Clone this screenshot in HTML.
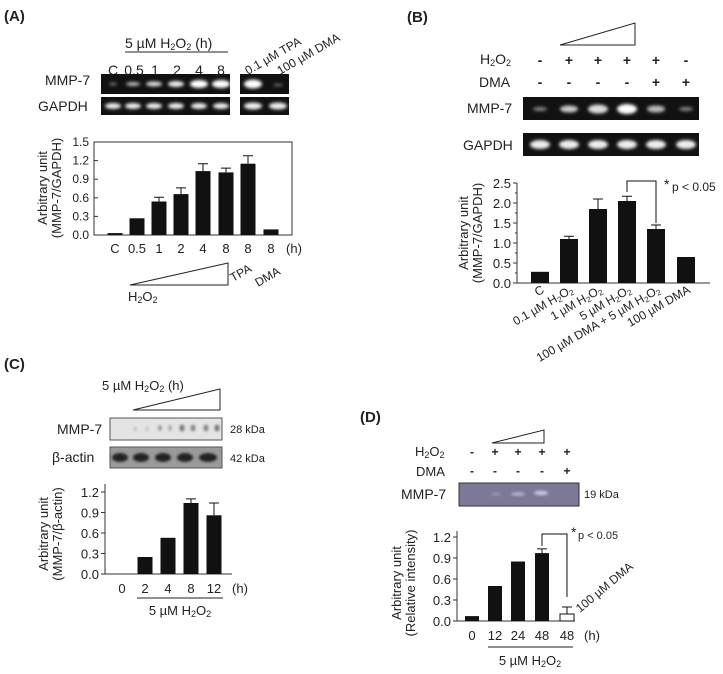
<!DOCTYPE html>
<html><head><meta charset="utf-8"><style>
html,body{margin:0;padding:0;background:#fff}
svg{display:block}
text{font-family:"Liberation Sans",Arial,sans-serif;fill:#222}
</style></head><body>
<svg width="723" height="674" viewBox="0 0 723 674" xmlns="http://www.w3.org/2000/svg">
<defs>
<filter id="bl" x="-50%" y="-50%" width="200%" height="200%"><feGaussianBlur stdDeviation="1.6"/></filter>
<filter id="bl2" x="-50%" y="-50%" width="200%" height="200%"><feGaussianBlur stdDeviation="1.2"/></filter>
</defs>

<!-- ===== Panel A ===== -->
<text x="4" y="21" font-size="15" font-weight="bold">(A)</text>
<text x="125" y="48" font-size="14">5 µM H<tspan font-size="9" dy="2">2</tspan><tspan dy="-2">O</tspan><tspan font-size="9" dy="2">2</tspan><tspan dy="-2">  (h)</tspan></text>
<line x1="125" y1="52" x2="228" y2="52" stroke="#222" stroke-width="1"/>
<g font-size="14" text-anchor="middle">
<text x="113" y="75">C</text><text x="134" y="75">0.5</text><text x="155" y="75">1</text><text x="177" y="75">2</text><text x="199" y="75">4</text><text x="221" y="75">8</text>
</g>
<text font-size="12" transform="translate(248,75) rotate(-30)">0.1 µM TPA</text>
<text font-size="12" transform="translate(280,75) rotate(-30)">100 µM DMA</text>
<text x="45" y="85" font-size="14">MMP-7</text>
<text x="38" y="111" font-size="14">GAPDH</text>
<rect x="101" y="74" width="129" height="20" fill="#111"/>
<rect x="240" y="74" width="49" height="20" fill="#111"/>
<rect x="101" y="97" width="129" height="18" fill="#111"/>
<rect x="240" y="97" width="49" height="18" fill="#111"/>
<g filter="url(#bl)">
<ellipse cx="113" cy="84" rx="4" ry="1.5" fill="#777"/>
<ellipse cx="133" cy="84" rx="7" ry="2" fill="#bbb"/>
<ellipse cx="154" cy="84" rx="8" ry="2.5" fill="#ddd"/>
<ellipse cx="176" cy="84" rx="8" ry="3" fill="#eee"/>
<ellipse cx="199" cy="84" rx="9" ry="4" fill="#fff"/>
<ellipse cx="221" cy="84" rx="9" ry="4" fill="#fff"/>
<ellipse cx="253" cy="84" rx="9" ry="4.5" fill="#fff"/>
<ellipse cx="278" cy="85" rx="5" ry="1.5" fill="#666"/>
<ellipse cx="113" cy="106" rx="8" ry="3" fill="#eee"/>
<ellipse cx="133" cy="106" rx="8" ry="3" fill="#eee"/>
<ellipse cx="154" cy="106" rx="8" ry="3" fill="#eee"/>
<ellipse cx="176" cy="106" rx="8" ry="3" fill="#eee"/>
<ellipse cx="199" cy="106" rx="8" ry="3" fill="#eee"/>
<ellipse cx="221" cy="106" rx="8" ry="3" fill="#eee"/>
<ellipse cx="253" cy="106" rx="9" ry="3.5" fill="#eee"/>
<ellipse cx="278" cy="106" rx="9" ry="3.5" fill="#eee"/>
</g>
<rect x="94" y="142" width="198" height="93" fill="none" stroke="#333" stroke-width="1"/>
<g stroke="#333">
<line x1="94" y1="235" x2="98" y2="235"/><line x1="94" y1="216.4" x2="98" y2="216.4"/><line x1="94" y1="197.8" x2="98" y2="197.8"/><line x1="94" y1="179.2" x2="98" y2="179.2"/><line x1="94" y1="160.6" x2="98" y2="160.6"/><line x1="94" y1="142" x2="98" y2="142"/>
</g>
<g font-size="12" text-anchor="end">
<text x="89" y="239">0.0</text><text x="89" y="220.4">0.3</text><text x="89" y="201.8">0.6</text><text x="89" y="183.2">0.9</text><text x="89" y="164.6">1.2</text><text x="89" y="146">1.5</text>
</g>
<text font-size="13" text-anchor="middle" transform="translate(47,188) rotate(-90)">Arbitrary unit</text>
<text font-size="13" text-anchor="middle" transform="translate(61,188) rotate(-90)">(MMP-7/GAPDH)</text>
<g fill="#111">
<rect x="107.5" y="233.1" width="15" height="1.9"/>
<rect x="129.5" y="218.3" width="15" height="16.7"/>
<rect x="151.5" y="201.5" width="15" height="33.5"/>
<rect x="173.5" y="194.1" width="15" height="40.9"/>
<rect x="195.5" y="171.1" width="15" height="63.9"/>
<rect x="218.5" y="172.4" width="15" height="62.6"/>
<rect x="240.5" y="163.7" width="15" height="71.3"/>
<rect x="263.5" y="229.4" width="15" height="5.6"/>
</g>
<g stroke="#111" stroke-width="1">
<path d="M159 201.5V197.2M154 197.2H164"/>
<path d="M181 194.1V187.9M176 187.9H186"/>
<path d="M203 171.1V163.7M198 163.7H208"/>
<path d="M226 172.4V168.1M221 168.1H231"/>
<path d="M248 163.7V155.7M243 155.7H253"/>
</g>
<g font-size="13" text-anchor="middle">
<text x="115" y="253">C</text><text x="137" y="253">0.5</text><text x="159" y="253">1</text><text x="181" y="253">2</text><text x="203" y="253">4</text><text x="226" y="253">8</text><text x="248" y="253">8</text><text x="271" y="253">8</text><text x="294" y="253">(h)</text>
</g>
<path d="M130 285L228 263V285Z" fill="none" stroke="#222" stroke-width="1"/>
<text x="128" y="301" font-size="13">H<tspan font-size="9" dy="2">2</tspan><tspan dy="-2">O</tspan><tspan font-size="9" dy="2">2</tspan></text>
<text font-size="12" transform="translate(233,282) rotate(-30)">TPA</text>
<text font-size="12" transform="translate(258,287) rotate(-30)">DMA</text>

<!-- ===== Panel B ===== -->
<text x="407" y="22" font-size="15" font-weight="bold">(B)</text>
<path d="M560 45L635 23V45Z" fill="none" stroke="#222" stroke-width="1"/>
<text x="480" y="64" font-size="14">H<tspan font-size="9" dy="2">2</tspan><tspan dy="-2">O</tspan><tspan font-size="9" dy="2">2</tspan></text>
<text x="479" y="87" font-size="14">DMA</text>
<g font-size="14" text-anchor="middle" font-weight="bold">
<text x="540" y="65">-</text><text x="569" y="65">+</text><text x="598" y="65">+</text><text x="627" y="65">+</text><text x="656" y="65">+</text><text x="686" y="65">-</text>
<text x="540" y="87">-</text><text x="569" y="87">-</text><text x="598" y="87">-</text><text x="627" y="87">-</text><text x="656" y="87">+</text><text x="686" y="87">+</text>
</g>
<text x="467" y="113" font-size="14">MMP-7</text>
<text x="463" y="150" font-size="14">GAPDH</text>
<rect x="523" y="97" width="176" height="23" fill="#111"/>
<rect x="523" y="133" width="176" height="23" fill="#111"/>
<g filter="url(#bl)">
<ellipse cx="540" cy="109" rx="7" ry="2" fill="#888"/>
<ellipse cx="569" cy="109" rx="9" ry="3.5" fill="#ccc"/>
<ellipse cx="598" cy="109" rx="10" ry="4.5" fill="#ddd"/>
<ellipse cx="627" cy="109" rx="10" ry="5" fill="#fff"/>
<ellipse cx="656" cy="109" rx="9" ry="3.5" fill="#bbb"/>
<ellipse cx="686" cy="109" rx="7" ry="2" fill="#888"/>
<ellipse cx="540" cy="144.5" rx="10" ry="4.5" fill="#eee"/>
<ellipse cx="569" cy="144.5" rx="10" ry="4.5" fill="#eee"/>
<ellipse cx="598" cy="144.5" rx="10" ry="4.5" fill="#eee"/>
<ellipse cx="627" cy="144.5" rx="10" ry="4.5" fill="#eee"/>
<ellipse cx="656" cy="144.5" rx="10" ry="4.5" fill="#eee"/>
<ellipse cx="686" cy="144.5" rx="10" ry="4.5" fill="#eee"/>
</g>
<path d="M517 183V283H710" fill="none" stroke="#333" stroke-width="1"/>
<g stroke="#333">
<line x1="513" y1="283" x2="517" y2="283"/><line x1="513" y1="263" x2="517" y2="263"/><line x1="513" y1="243" x2="517" y2="243"/><line x1="513" y1="223" x2="517" y2="223"/><line x1="513" y1="203" x2="517" y2="203"/><line x1="513" y1="183" x2="517" y2="183"/>
<line x1="515" y1="273" x2="517" y2="273"/><line x1="515" y1="253" x2="517" y2="253"/><line x1="515" y1="233" x2="517" y2="233"/><line x1="515" y1="213" x2="517" y2="213"/><line x1="515" y1="193" x2="517" y2="193"/>
</g>
<g font-size="13" text-anchor="end">
<text x="511" y="288">0.0</text><text x="511" y="268">0.5</text><text x="511" y="248">1.0</text><text x="511" y="228">1.5</text><text x="511" y="208">2.0</text><text x="511" y="188">2.5</text>
</g>
<text font-size="13" text-anchor="middle" transform="translate(468,233) rotate(-90)">Arbitrary unit</text>
<text font-size="13" text-anchor="middle" transform="translate(482,233) rotate(-90)">(MMP-7/GAPDH)</text>
<g fill="#111">
<rect x="531" y="271.8" width="18" height="11.2"/>
<rect x="560" y="239" width="18" height="44"/>
<rect x="589" y="209" width="18" height="74"/>
<rect x="618" y="201" width="18" height="82"/>
<rect x="647" y="229" width="18" height="54"/>
<rect x="677" y="257" width="18" height="26"/>
</g>
<g stroke="#111" stroke-width="1" fill="none">
<path d="M569 239V236.2M564 236.2H574"/>
<path d="M598 209V199M593 199H603"/>
<path d="M627 201V196.2M622 196.2H632"/>
<path d="M656 229V225M651 225H661"/>
<path d="M627 192V181H656V223"/>
</g>
<text x="664" y="189" font-size="14">*</text>
<text x="672" y="191" font-size="12">p &lt; 0.05</text>
<g font-size="12" text-anchor="end">
<text transform="translate(545,292) rotate(-30)">C</text>
<text transform="translate(574,292) rotate(-30)">0.1 µM H<tspan font-size="8" dy="2">2</tspan><tspan dy="-2">O</tspan><tspan font-size="8" dy="2">2</tspan></text>
<text transform="translate(603,292) rotate(-30)">1 µM H<tspan font-size="8" dy="2">2</tspan><tspan dy="-2">O</tspan><tspan font-size="8" dy="2">2</tspan></text>
<text transform="translate(632,292) rotate(-30)">5 µM H<tspan font-size="8" dy="2">2</tspan><tspan dy="-2">O</tspan><tspan font-size="8" dy="2">2</tspan></text>
<text transform="translate(661,292) rotate(-30)">100 µM DMA + 5 µM H<tspan font-size="8" dy="2">2</tspan><tspan dy="-2">O</tspan><tspan font-size="8" dy="2">2</tspan></text>
<text transform="translate(691,292) rotate(-30)">100 µM DMA</text>
</g>

<!-- ===== Panel C ===== -->
<text x="4" y="369" font-size="15" font-weight="bold">(C)</text>
<text x="102" y="390" font-size="13">5 µM H<tspan font-size="9" dy="2">2</tspan><tspan dy="-2">O</tspan><tspan font-size="9" dy="2">2</tspan><tspan dy="-2"> (h)</tspan></text>
<path d="M133 410L220 389V410Z" fill="none" stroke="#222" stroke-width="1"/>
<text x="57" y="434" font-size="14">MMP-7</text>
<text x="52" y="462" font-size="14">β-actin</text>
<rect x="110" y="418" width="112" height="22" fill="#e4e4e4" stroke="#555" stroke-width="1"/>
<rect x="110" y="447" width="112" height="21" fill="#9a9a9a" stroke="#555" stroke-width="1"/>
<g filter="url(#bl2)">
<ellipse cx="135" cy="429" rx="1.5" ry="2.5" fill="#bbb"/><ellipse cx="147" cy="429" rx="1.5" ry="2" fill="#bbb"/>
<ellipse cx="160" cy="428" rx="2" ry="3" fill="#999"/><ellipse cx="170" cy="428" rx="2" ry="3" fill="#aaa"/>
<ellipse cx="182" cy="428" rx="2.5" ry="3.5" fill="#777"/><ellipse cx="193" cy="428" rx="2.5" ry="3.5" fill="#888"/>
<ellipse cx="206" cy="428" rx="2.5" ry="3.5" fill="#888"/><ellipse cx="217" cy="428" rx="2.5" ry="3.5" fill="#777"/>
<ellipse cx="120" cy="457.5" rx="8" ry="4.5" fill="#222"/><ellipse cx="141" cy="457.5" rx="8" ry="4.5" fill="#222"/>
<ellipse cx="163" cy="457.5" rx="8" ry="4.5" fill="#222"/><ellipse cx="185" cy="457.5" rx="8" ry="4.5" fill="#222"/>
<ellipse cx="208" cy="457.5" rx="9" ry="4.5" fill="#222"/>
</g>
<text x="230" y="433" font-size="11">28 kDa</text>
<text x="230" y="462" font-size="11">42 kDa</text>
<path d="M105 484V574H232" fill="none" stroke="#333" stroke-width="1"/>
<g stroke="#333">
<line x1="101" y1="574" x2="105" y2="574"/><line x1="101" y1="553.5" x2="105" y2="553.5"/><line x1="101" y1="533" x2="105" y2="533"/><line x1="101" y1="512.5" x2="105" y2="512.5"/><line x1="101" y1="492" x2="105" y2="492"/>
</g>
<g font-size="13" text-anchor="end">
<text x="99" y="579">0.0</text><text x="99" y="558.5">0.3</text><text x="99" y="538">0.6</text><text x="99" y="517.5">0.9</text><text x="99" y="497">1.2</text>
</g>
<text font-size="13" text-anchor="middle" transform="translate(48,534) rotate(-90)">Arbitrary unit</text>
<text font-size="13" text-anchor="middle" transform="translate(62,534) rotate(-90)">(MMP-7/β-actin)</text>
<g fill="#111">
<rect x="137.5" y="557" width="15" height="17"/>
<rect x="160.5" y="537.8" width="15" height="36.2"/>
<rect x="183.5" y="503" width="15" height="71"/>
<rect x="206.5" y="515.3" width="15" height="58.7"/>
</g>
<g stroke="#111" stroke-width="1">
<path d="M191 503V498.9M186 498.9H196"/>
<path d="M214 515.3V503M209 503H219"/>
</g>
<g font-size="13" text-anchor="middle">
<text x="122" y="593">0</text><text x="145" y="593">2</text><text x="168" y="593">4</text><text x="191" y="593">8</text><text x="214" y="593">12</text><text x="240" y="593">(h)</text>
</g>
<line x1="137" y1="598" x2="223" y2="598" stroke="#222" stroke-width="1"/>
<text x="180" y="615" font-size="13" text-anchor="middle">5 µM H<tspan font-size="9" dy="2">2</tspan><tspan dy="-2">O</tspan><tspan font-size="9" dy="2">2</tspan></text>

<!-- ===== Panel D ===== -->
<text x="360" y="422" font-size="15" font-weight="bold">(D)</text>
<path d="M492 443L544 430V443Z" fill="none" stroke="#222" stroke-width="1"/>
<text x="415" y="456" font-size="13">H<tspan font-size="9" dy="2">2</tspan><tspan dy="-2">O</tspan><tspan font-size="9" dy="2">2</tspan></text>
<text x="416" y="476" font-size="13">DMA</text>
<g font-size="12" text-anchor="middle" font-weight="bold">
<text x="472" y="456">-</text><text x="495" y="456">+</text><text x="518" y="456">+</text><text x="542" y="456">+</text><text x="567" y="456">+</text>
<text x="472" y="475">-</text><text x="495" y="475">-</text><text x="518" y="475">-</text><text x="542" y="475">-</text><text x="567" y="475">+</text>
</g>
<text x="401" y="499" font-size="14">MMP-7</text>
<rect x="459" y="483" width="120" height="23" fill="#7b7898" stroke="#333" stroke-width="1"/>
<g filter="url(#bl2)">
<ellipse cx="496" cy="494" rx="5" ry="1.5" fill="#9a98b4"/>
<ellipse cx="518" cy="494" rx="7" ry="2" fill="#aeadc6"/>
<ellipse cx="541" cy="493" rx="7" ry="2.5" fill="#c2c0d6"/>
</g>
<text x="584" y="498" font-size="11">19 kDa</text>
<path d="M457 531V621H575" fill="none" stroke="#333" stroke-width="1"/>
<g stroke="#333">
<line x1="453" y1="621" x2="457" y2="621"/><line x1="453" y1="600" x2="457" y2="600"/><line x1="453" y1="579" x2="457" y2="579"/><line x1="453" y1="558" x2="457" y2="558"/><line x1="453" y1="537" x2="457" y2="537"/>
</g>
<g font-size="13" text-anchor="end">
<text x="451" y="626">0.0</text><text x="451" y="605">0.3</text><text x="451" y="584">0.6</text><text x="451" y="563">0.9</text><text x="451" y="542">1.2</text>
</g>
<text font-size="13" text-anchor="middle" transform="translate(401,583) rotate(-90)">Arbitrary unit</text>
<text font-size="13" text-anchor="middle" transform="translate(415,583) rotate(-90)">(Relative intensity)</text>
<g fill="#111">
<rect x="465" y="616.1" width="14" height="4.9"/>
<rect x="488" y="586" width="14" height="35"/>
<rect x="511" y="561.5" width="14" height="59.5"/>
<rect x="535" y="553.1" width="14" height="67.9"/>
</g>
<rect x="560" y="614" width="14" height="7" fill="#fff" stroke="#111" stroke-width="1"/>
<g stroke="#111" stroke-width="1" fill="none">
<path d="M542 553.1V548.9M537 548.9H547"/>
<path d="M567 614V607M562 607H572"/>
<path d="M542 546V534H567V597"/>
</g>
<text x="571" y="537" font-size="14">*</text>
<text x="578" y="539" font-size="11">p &lt; 0.05</text>
<text font-size="12" transform="translate(580,613) rotate(-40)">100 µM DMA</text>
<g font-size="13" text-anchor="middle">
<text x="472" y="640">0</text><text x="495" y="640">12</text><text x="518" y="640">24</text><text x="542" y="640">48</text><text x="567" y="640">48</text><text x="592" y="640">(h)</text>
</g>
<line x1="488" y1="647" x2="573" y2="647" stroke="#222" stroke-width="1"/>
<text x="530" y="665" font-size="13" text-anchor="middle">5 µM H<tspan font-size="9" dy="2">2</tspan><tspan dy="-2">O</tspan><tspan font-size="9" dy="2">2</tspan></text>
</svg>
</body></html>
